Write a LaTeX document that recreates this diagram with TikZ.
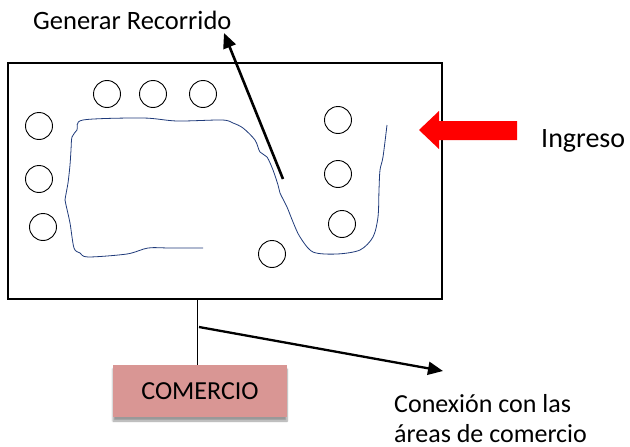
\documentclass[tikz,border=0pt]{standalone}
\usepackage{fontspec}
\setmainfont{Carlito}
\usetikzlibrary{arrows.meta,shadows.blur}
\definecolor{comfill}{HTML}{D99694}
\definecolor{pathblue}{HTML}{1F3A7A}
\tikzset{
  seat/.style={draw=black,line width=0.9pt,circle,minimum size=27pt,inner sep=0pt},
  lbl/.style={inner sep=0pt,font=\fontsize{26}{30}\selectfont},
  bigarrow/.style={line width=2.6pt,-{Triangle[length=15pt,width=13pt]}},
}
\begin{document}
\begin{tikzpicture}[x=1pt,y=-1pt]
\useasboundingbox (0,0) rectangle (630,447);
% main area
\node[draw=black,line width=1.1pt,minimum width=434pt,minimum height=236pt,inner sep=0pt] (plaza) at (225,181) {};
% seats
\node[seat] (c1) at (107,94) {};
\node[seat] (c2) at (153,94) {};
\node[seat] (c3) at (203,94) {};
\node[seat] (c4) at (39,126) {};
\node[seat] (c5) at (39,179) {};
\node[seat] (c6) at (43,227) {};
\node[seat] (c7) at (272,254) {};
\node[seat] (c8) at (338,120) {};
\node[seat] (c9) at (338,174) {};
\node[seat] (c10) at (342,224) {};
% route
\draw[pathblue,line width=0.8pt] plot[smooth,tension=0.5] coordinates {
(203,248) (170,248) (148,248) (127,254) (88,257) (80,253) (74,248) (70,223) (66,205) (65,200) (68,183) (70,165) (71,150) (72,137) (77,130) (83,120) (143,118) (177,121) (222,120) (233,123) (243,128) (255,140) (260,152) (267,157) (273,170) (278,185) (280,193) (287,207) (293,222) (300,237) (313,252) (337,254) (360,250) (373,237) (378,217) (379,190) (380,170) (383,157) (387,125)};
% labels
\node[lbl,anchor=base west,font=\fontsize{26.5}{30}\selectfont] (gen) at (33,29) {Generar Recorrido};
\node[lbl,anchor=base west,font=\fontsize{28}{32}\selectfont] (ing) at (541,147) {Ingreso};
\node[lbl,anchor=base west,align=left] (conex) at (394,442) {Conexión con las\\áreas de comercio};
% commerce box
\node[fill=comfill,minimum width=174pt,minimum height=52pt,inner sep=0pt,
      font=\fontsize{26}{30}\selectfont,
      blur shadow={shadow xshift=0pt,shadow yshift=-4pt,shadow blur steps=6,shadow opacity=40}] (com) at (200,391) {COMERCIO};
% connectors
\coordinate (genstart) at (283,179);
\coordinate (gentip) at (224,33);
\draw[bigarrow] (genstart) -- (gentip);
\coordinate (v1) at (197,299);
\draw[line width=1pt] (v1) -- (v1 |- com.north);
\coordinate (cstart) at (199,327);
\coordinate (ctip) at (443,371);
\draw[bigarrow,line width=2.3pt] (cstart) -- (ctip);
% entry arrow
\fill[red] (419,130) -- (439,111) -- (439,121) -- (517,121) -- (517,140) -- (439,140) -- (439,149) -- cycle;
\end{tikzpicture}
\end{document}
